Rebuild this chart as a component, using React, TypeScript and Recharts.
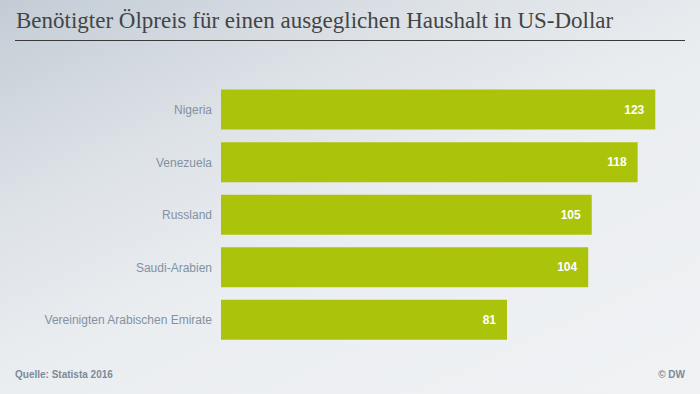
import { BarChart, Bar, XAxis, YAxis, LabelList } from 'recharts';

const countries = [
  'Nigeria',
  'Venezuela',
  'Russland',
  'Saudi-Arabien',
  'Vereinigten Arabischen Emirate',
];
const oilPrice = [123, 118, 105, 104, 81];

const data = countries.map((name, i) => ({ name, value: oilPrice[i] }));

export default function App() {
  return (
    <div
      style={{
        position: 'fixed',
        left: 0,
        top: 0,
        width: 700,
        height: 394,
        overflow: 'hidden',
        background:
          'linear-gradient(155deg, #c3ccd5 0%, #dde2e7 30%, #ebeef1 55%, #f0f2f4 100%)',
        fontFamily: 'Liberation Sans, Arial, sans-serif',
      }}
    >
      <div
        style={{
          position: 'absolute',
          left: 16,
          top: 8,
          fontFamily: '"Liberation Serif", serif',
          fontSize: 23,
          color: '#444',
          whiteSpace: 'nowrap',
        }}
      >
        Benötigter Ölpreis für einen ausgeglichen Haushalt in US-Dollar
      </div>
      <div
        style={{
          position: 'absolute',
          left: 15,
          top: 40,
          width: 670,
          height: 1,
          background: '#3a3a3a',
        }}
      />
      <BarChart
        width={700}
        height={394}
        data={data}
        layout="vertical"
        margin={{ top: 83.6, right: 20, bottom: 47.7, left: 0 }}
        style={{ position: 'absolute', left: 0, top: 0 }}
      >
        <XAxis type="number" domain={[0, 130]} hide />
        <YAxis
          type="category"
          dataKey="name"
          width={221}
          axisLine={false}
          tickLine={false}
          tickSize={0}
          tickMargin={9}
          tick={{ fill: '#8391a2', fontSize: 12 }}
        />
        <Bar dataKey="value" fill="#abc30a" barSize={40} isAnimationActive={false}>
          <LabelList
            dataKey="value"
            position="insideRight"
            offset={11}
            fill="#fff"
            fontSize={12}
            fontWeight="bold"
          />
        </Bar>
      </BarChart>
      <div
        style={{
          position: 'absolute',
          left: 15,
          top: 369,
          fontSize: 10,
          fontWeight: 'bold',
          color: '#7b8a9a',
        }}
      >
        Quelle: Statista 2016
      </div>
      <div
        style={{
          position: 'absolute',
          right: 15,
          top: 369,
          fontSize: 10,
          fontWeight: 'bold',
          color: '#7b8a9a',
        }}
      >
        © DW
      </div>
    </div>
  );
}
